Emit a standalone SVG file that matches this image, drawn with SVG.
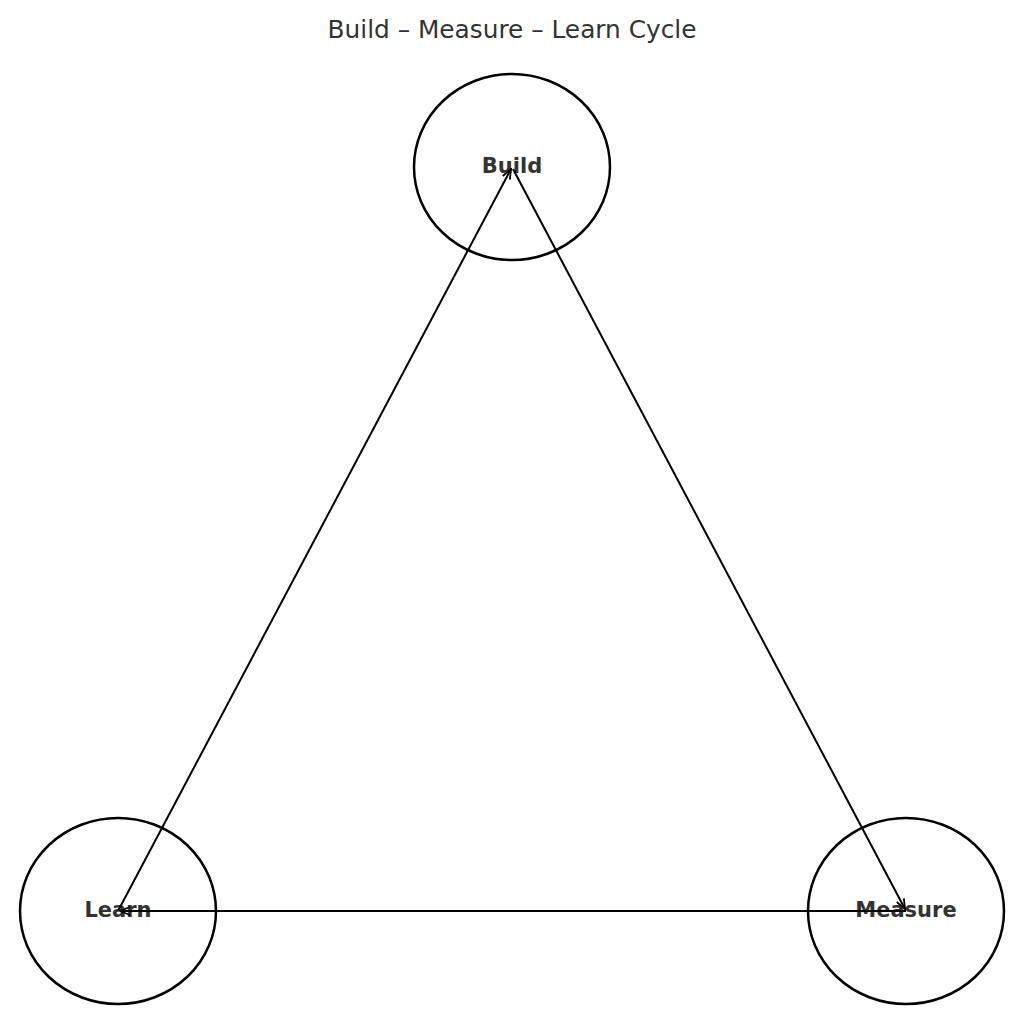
<svg xmlns="http://www.w3.org/2000/svg" width="1024" height="1024" viewBox="0 0 1024 1024">
<style>
.node{fill:none;stroke:#000;stroke-width:2.5}
.lbl{font-family:"DejaVu Sans",sans-serif;font-weight:bold;font-size:21px;fill:#333;text-anchor:middle;dominant-baseline:central}
.title{font-family:"DejaVu Sans",sans-serif;font-size:24.8px;fill:#333;text-anchor:middle}
.edge{stroke:#000;stroke-width:2;fill:none;marker-end:url(#ah)}
</style>
<defs>
<marker id="ah" viewBox="0 0 12 10" refX="11" refY="5" markerWidth="12" markerHeight="10" markerUnits="userSpaceOnUse" orient="auto">
<path d="M1,1 L11,5 L1,9" fill="none" stroke="#000" stroke-width="1.8"/>
</marker>
</defs>
<rect width="1024" height="1024" fill="#fff"/>
<text class="title" x="512" y="38">Build – Measure – Learn Cycle</text>
<g id="build">
<ellipse class="node" cx="512" cy="167" rx="98" ry="93"/>
<text class="lbl" x="512" y="166">Build</text>
</g>
<g id="measure">
<ellipse class="node" cx="906" cy="911" rx="98" ry="93"/>
<text class="lbl" x="906" y="910">Measure</text>
</g>
<g id="learn">
<ellipse class="node" cx="118" cy="911" rx="98" ry="93"/>
<text class="lbl" x="118" y="910">Learn</text>
</g>
<g id="connectors">
<line class="edge" x1="118" y1="911" x2="511" y2="169"/>
<line class="edge" x1="513" y1="169" x2="905" y2="909"/>
<line class="edge" x1="906" y1="911" x2="120" y2="911"/>
</g>
</svg>
